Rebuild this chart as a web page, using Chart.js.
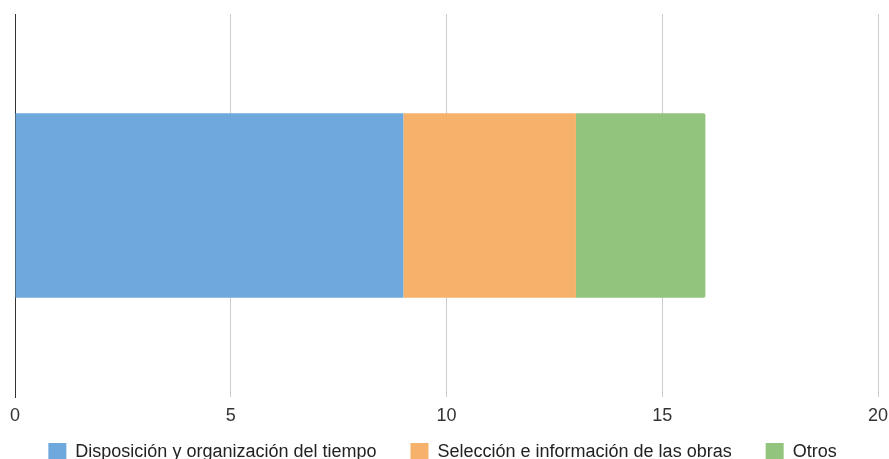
<!DOCTYPE html>
<html>
<head>
<meta charset="utf-8">
<script src="https://cdn.jsdelivr.net/npm/chart.js@4/dist/chart.umd.min.js"></script>
<style>
    html, body { margin: 0; padding: 0; background: #fff; overflow: hidden; }
    #chart { display: block; }
</style>
</head>
<body>
<canvas id="chart" width="889" height="471"></canvas>
<script>
// Chart data
const categories = [''];
const seriesNames = ['Disposición y organización del tiempo', 'Selección e información de las obras', 'Otros'];
const seriesColors = ['#6fa8dc', '#f6b26b', '#93c47d'];
const disposicion = [9];
const seleccion = [4];
const otros = [3];
const xTicks = [0, 5, 10, 15, 20];

const seriesValues = [disposicion, seleccion, otros];

document.addEventListener('DOMContentLoaded', function() {
    initChart();
});

// x labels sit partly over the legend padding, so widen the scale's clip box after layout
const labelRoom = {
    id: 'labelRoom',
    afterLayout: function(chart) {
        const x = chart.scales.x;
        x.bottom = x.top + 32;
    }
};

function initChart() {
    const ctx = document.getElementById('chart').getContext('2d');
    const lastIndex = seriesValues.length - 1;

    const datasets = seriesValues.map((values, i) => ({
        label: seriesNames[i],
        data: values,
        backgroundColor: seriesColors[i],
        borderWidth: 0,
        // only the end of the stack gets rounded corners
        borderRadius: i === lastIndex ? 2 : 0,
        borderSkipped: i === lastIndex ? 'start' : true,
        barPercentage: 0.8,
        categoryPercentage: 0.602
    }));

    new Chart(ctx, {
        type: 'bar',
        data: { labels: categories, datasets: datasets },
        plugins: [labelRoom],
        options: {
            indexAxis: 'y',
            responsive: false,
            animation: false,
            layout: {
                padding: { top: 14, left: 7, right: 11, bottom: 0 }
            },
            plugins: {
                legend: {
                    position: 'bottom',
                    labels: {
                        boxWidth: 18,
                        boxHeight: 18,
                        padding: 34,
                        color: '#222',
                        font: { family: "'Liberation Sans', Arial, sans-serif", size: 18 }
                    }
                },
                tooltip: { enabled: false }
            },
            scales: {
                x: {
                    stacked: true,
                    min: xTicks[0],
                    max: xTicks[xTicks.length - 1],
                    afterBuildTicks: function(scale) {
                        scale.ticks = xTicks.map(v => ({ value: v }));
                    },
                    afterFit: function(scale) {
                        scale.height = 12;
                        scale.paddingLeft = 0;
                        scale.paddingRight = 0;
                    },
                    grid: {
                        color: '#cccccc',
                        lineWidth: 1,
                        drawTicks: false
                    },
                    border: { display: false },
                    ticks: {
                        padding: 8,
                        color: '#333',
                        font: { family: "'Liberation Sans', Arial, sans-serif", size: 18 }
                    }
                },
                y: {
                    stacked: true,
                    grid: { display: false },
                    border: { display: true, color: '#333', width: 1 },
                    ticks: { display: false }
                }
            }
        }
    });
}
</script>
</body>
</html>
